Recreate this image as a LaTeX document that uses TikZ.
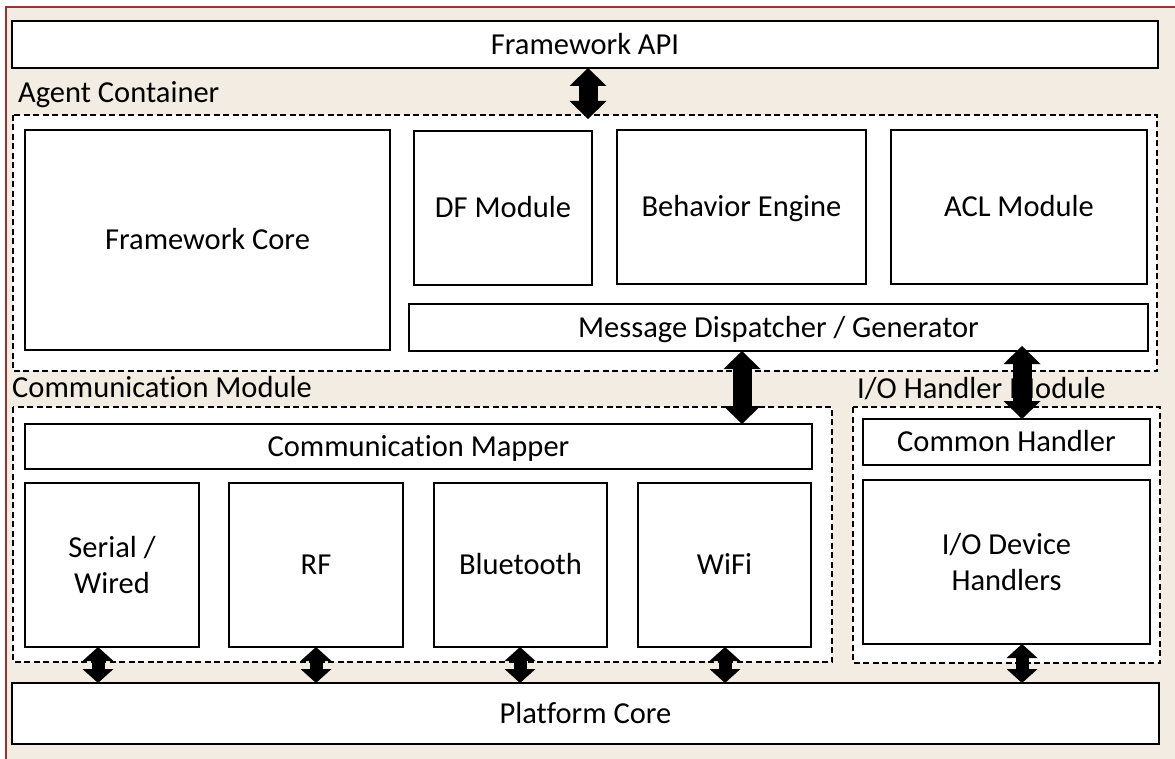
\documentclass[tikz,border=0pt]{standalone}
\usepackage{fontspec}
\setmainfont{Carlito}[Ligatures=NoCommon]
\usetikzlibrary{arrows.meta}
\definecolor{pagebg}{RGB}{243,236,226}
\definecolor{pageframe}{RGB}{150,52,50}
\begin{document}
\begin{tikzpicture}[x=1pt,y=-1pt,
  txt/.style={font=\fontsize{30.5}{36}\selectfont},
  blk/.style={txt, draw=black, line width=1.4pt, fill=white, inner sep=0pt,
              outer sep=0pt, anchor=north west, align=center},
  oneline/.style={text height=19.5pt, text depth=0pt},
  grp/.style={draw=black, line width=1.4pt, dash pattern=on 6pt off 3.5pt, fill=white},
  grplabel/.style={txt, anchor=base west, inner sep=0pt},
  bigarrow/.style={line width=19pt,
     {Triangle[width=37pt,length=18pt,line width=0pt]}-{Triangle[width=37pt,length=18pt,line width=0pt]}},
  smallarrow/.style={line width=13pt,
     {Triangle[width=31pt,length=14pt,line width=0pt]}-{Triangle[width=31pt,length=14pt,line width=0pt]}},
]
\useasboundingbox (0,0) rectangle (1175,759);
% page background with its dark red frame
\fill[pagebg] (6,7) rectangle (1185,770);
\draw[pageframe, line width=1.5pt] (6,770) -- (6,7) -- (1185,7);

% framework API on top
\node[blk, oneline, minimum width=1146pt, minimum height=47pt] (api) at (12,21) {Framework API};

% agent container
\draw[grp] (13,115) rectangle (1157,371);
\node[grplabel] (agentlbl) at (18,103) {Agent Container};
\node[blk, oneline, minimum width=365pt, minimum height=220pt] (core) at (25,130) {Framework Core};
\node[blk, oneline, minimum width=178pt, minimum height=154pt] (df) at (414,131) {DF Module};
\node[blk, oneline, minimum width=249pt, minimum height=154pt] (be) at (617,130) {Behavior Engine};
\node[blk, oneline, minimum width=256pt, minimum height=154pt] (acl) at (891,130) {ACL Module};
\node[blk, oneline, minimum width=739pt, minimum height=47pt] (md) at (409,304) {Message Dispatcher / Generator};

% communication module
\draw[grp] (13,407) rectangle (832,662);
\node[grplabel] (commlbl) at (12,397) {Communication Module};
\node[blk, oneline, minimum width=787pt, minimum height=45pt] (mapper) at (25,424) {Communication Mapper};
\node[blk, minimum width=174pt, minimum height=164pt] (serial) at (25,483) {Serial /\\Wired};
\node[blk, oneline, minimum width=174pt, minimum height=164pt] (rf) at (229,483) {RF};
\node[blk, oneline, minimum width=173pt, minimum height=164pt] (bt) at (434,483) {Bluetooth};
\node[blk, oneline, minimum width=173pt, minimum height=164pt] (wifi) at (638,483) {WiFi};

% I/O handler module
\draw[grp] (853,407) rectangle (1160,663);
\node[grplabel] (iolbl) at (857,398) {I/O Handler Module};
\node[blk, oneline, minimum width=287pt, minimum height=46pt] (common) at (863,419) {Common Handler};
\node[blk, minimum width=287pt, minimum height=164pt] (iodev) at (863,480) {I/O Device\\Handlers};

% platform core at the bottom
\node[blk, oneline, minimum width=1147pt, minimum height=61pt] (platform) at (12,683) {Platform Core};

% connectors
\coordinate (agenttop) at (588,119);
\coordinate (dispx) at (742,0);
\coordinate (iotop) at (1022,346);
\draw[bigarrow] (api.south -| agenttop) -- (agenttop);
\draw[bigarrow] (md.south -| dispx) -- (mapper.north -| dispx);
\draw[bigarrow] (iotop) -- (common.north -| iotop);

\coordinate (sx) at (98,0);
\coordinate (rx) at (316,0);
\coordinate (bx) at (520,0);
\coordinate (wx) at (725,0);
\coordinate (ix) at (1022,0);
\draw[smallarrow] (serial.south -| sx) -- (platform.north -| sx);
\draw[smallarrow] (rf.south -| rx) -- (platform.north -| rx);
\draw[smallarrow] (bt.south -| bx) -- (platform.north -| bx);
\draw[smallarrow] (wifi.south -| wx) -- (platform.north -| wx);
\draw[smallarrow] (iodev.south -| ix) -- (platform.north -| ix);
\end{tikzpicture}
\end{document}
